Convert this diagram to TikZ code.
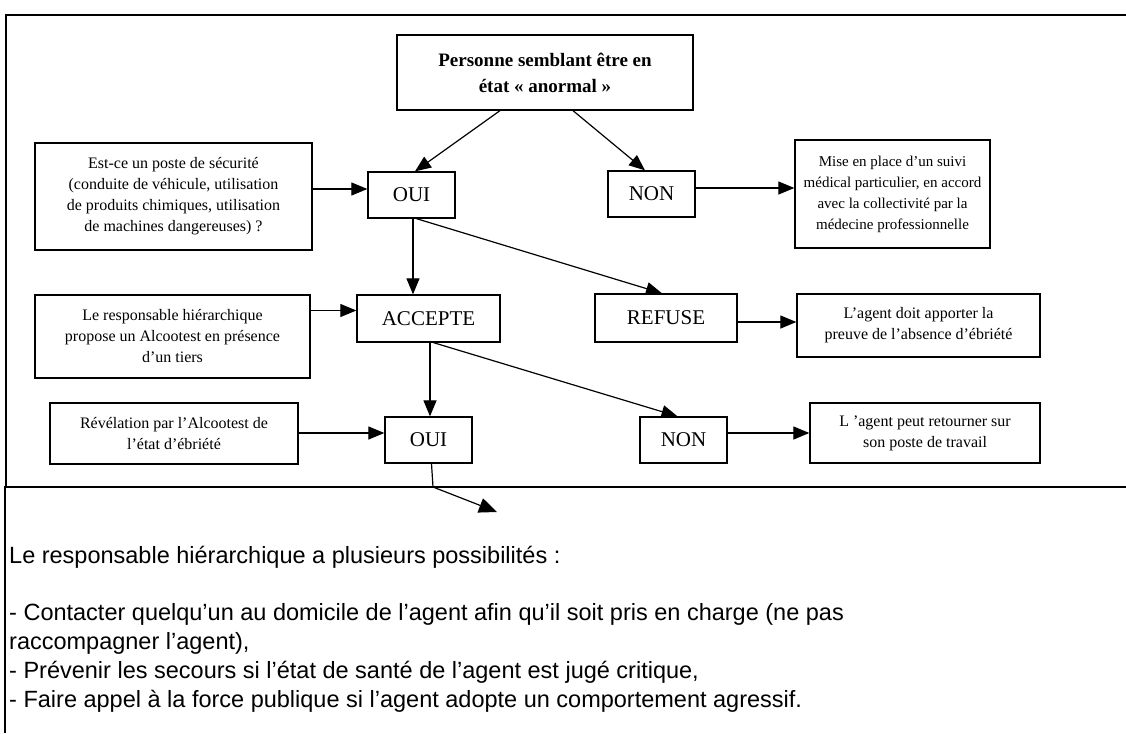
\documentclass[tikz,border=0pt]{standalone}
\usepackage{fontspec}
\setmainfont{Liberation Serif}
\newfontfamily\sansf{Liberation Sans}
\usetikzlibrary{arrows.meta}
\begin{document}
\begin{tikzpicture}[x=1pt,y=-1pt,
  box/.style={draw, line width=1.3pt, align=center, inner sep=2pt, font=\fontsize{16}{21}\selectfont},
  big/.style={draw, line width=1.3pt, font=\fontsize{21}{24}\selectfont, minimum width=87pt, minimum height=46pt, inner sep=0pt},
  arr/.style={line width=1.2pt, -{Triangle[length=16pt,width=13pt]}},
  btxt/.style={anchor=base west, inner sep=0pt, font=\sansf\fontsize{23.5}{27}\selectfont}
]
\useasboundingbox (0,0) rectangle (1126,733);
\fill[white] (0,0) rectangle (1126,733);
% frames
\draw[line width=1.5pt] (1126,15) -- (6,15) -- (6,487);
\draw[line width=1.2pt] (1126,487) -- (5,487) -- (5,733);
% nodes
\node[box, font=\bfseries\fontsize{19}{26}\selectfont, minimum width=296pt, minimum height=75pt] (top) at (545,72.5) {Personne semblant être en\\état «~anormal~»};
\node[box, minimum width=277pt, minimum height=107pt] (left1) at (173.5,196.5) {Est-ce un poste de sécurité\\(conduite de véhicule, utilisation\\de produits chimiques, utilisation\\de machines dangereuses) ?};
\node[big] (oui1) at (411.5,195) {OUI};
\node[big] (non1) at (651.5,194) {NON};
\node[box, font=\fontsize{15}{21}\selectfont, minimum width=195pt, minimum height=108pt] (right1) at (892.5,194) {Mise en place d’un suivi\\médical particulier, en accord\\avec la collectivité par la\\médecine professionnelle};
\node[box, minimum width=275pt, minimum height=83pt] (left2) at (172.5,336.5) {Le responsable hiérarchique\\propose un Alcootest en présence\\d’un tiers};
\node[big, minimum width=143pt, minimum height=47pt] (acc) at (428.5,318.5) {ACCEPTE};
\node[big, minimum width=142pt, minimum height=48pt] (ref) at (666,318) {REFUSE};
\node[box, minimum width=243pt, minimum height=63pt] (right2) at (918.5,325.5) {L’agent doit apporter la\\preuve de l’absence d’ébriété};
\node[box, minimum width=248pt, minimum height=61pt] (left3) at (174,433.5) {Révélation par l’Alcootest de\\l’état d’ébriété};
\node[big] (oui2) at (428.5,440) {OUI};
\node[big] (non2) at (683.5,440) {NON};
\node[box, minimum width=230pt, minimum height=60pt] (right3) at (925,433) {L ’agent peut retourner sur\\son poste de travail};
% arrows
\draw[arr] ([xshift=-45pt]top.south) -- ([xshift=3.5pt]oui1.north);
\draw[arr] ([xshift=28pt]top.south) -- ([xshift=-6.5pt]non1.north);
\coordinate (c1) at ([yshift=6pt]oui1.west);
\draw[arr] (c1 -| left1.east) -- (c1);
\coordinate (c2) at ([yshift=6pt]non1.east);
\draw[arr] (c2) -- (c2 -| right1.west);
\coordinate (c3) at ([xshift=1.5pt]oui1.south);
\draw[arr] (c3) -- (c3 |- acc.north);
\draw[arr] ([xshift=5pt]oui1.south) -- ([xshift=-4pt]ref.north);
\coordinate (c4) at ([yshift=8pt]acc.west);
\draw[arr] (c4 -| left2.east) -- (c4);
\coordinate (c5) at ([yshift=-4pt]ref.east);
\draw[arr] (c5) -- (c5 -| right2.west);
\coordinate (c6) at ([xshift=1.5pt]acc.south);
\draw[arr] (c6) -- (c6 |- oui2.north);
\draw[arr] ([xshift=5pt]acc.south) -- ([xshift=-6pt]non2.north);
\coordinate (c7) at ([yshift=7pt]oui2.west);
\draw[arr] (c7 -| left3.east) -- (c7);
\coordinate (c8) at ([yshift=7pt]non2.east);
\draw[arr] (c8) -- (c8 -| right3.west);
\coordinate (bend) at (433,487);
\coordinate (arrend) at (497,512);
\draw[line width=1.2pt] ([xshift=3pt]oui2.south) -- (bend);
\draw[line width=1.2pt, -{Triangle[length=18pt,width=15pt]}] (bend) -- (arrend);
% bottom text
\node[btxt] (t1) at (9,563) {Le responsable hiérarchique a plusieurs possibilités :};
\node[btxt] (t2) at (9,620) {- Contacter quelqu’un au domicile de l’agent afin qu’il soit pris en charge (ne pas};
\node[btxt] (t3) at (9,649) {raccompagner l’agent),};
\node[btxt] (t4) at (9,678) {- Prévenir les secours si l’état de santé de l’agent est jugé critique,};
\node[btxt] (t5) at (9,707) {- Faire appel à la force publique si l’agent adopte un comportement agressif.};
\end{tikzpicture}
\end{document}
